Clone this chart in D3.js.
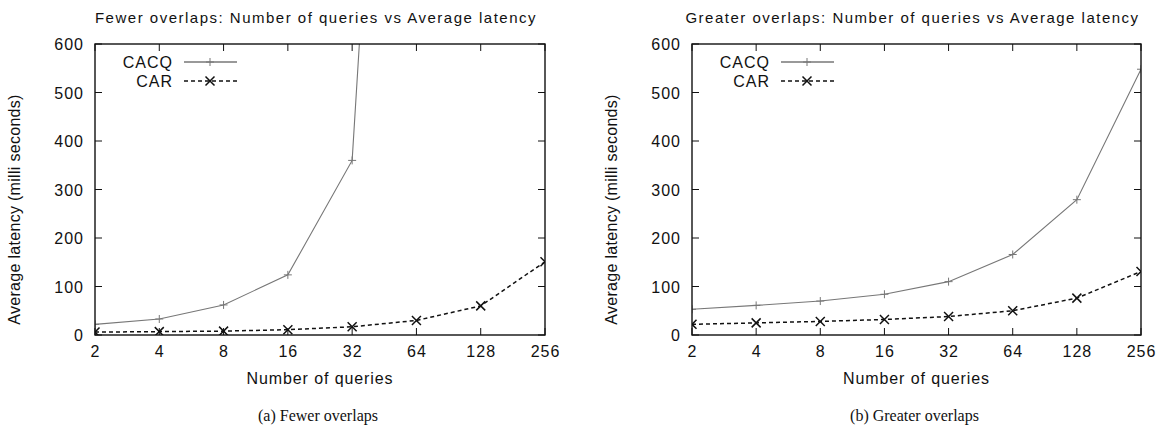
<!DOCTYPE html>
<html>
<head>
<meta charset="utf-8">
<script src="https://cdn.jsdelivr.net/npm/d3@7/dist/d3.min.js"></script>
<style>
  html, body { margin: 0; padding: 0; background: #fff; }
  svg { display: block; }
  .gp { font-family: "Liberation Sans", Arial, sans-serif; fill: #111; }
  .cap { font-family: "Liberation Serif", "Times New Roman", serif; fill: #111; }
</style>
</head>
<body>
<svg id="chart" width="1163" height="442"></svg>
<script>
// ---- data ----
const queries = [2, 4, 8, 16, 32, 64, 128, 256];
const xTickLabels = ["2", "4", "8", "16", "32", "64", "128", "256"];
const yTicks = [0, 100, 200, 300, 400, 500, 600];
const seriesNames = ["CACQ", "CAR"];

// (a) Fewer overlaps
const fewerCACQ = [22, 33, 62, 124, 360, 2500];
const fewerCAR  = [6, 7, 8, 11, 17, 30, 60, 151];
// (b) Greater overlaps
const greaterCACQ = [53, 61, 70, 84, 110, 166, 279, 548];
const greaterCAR  = [22, 25, 28, 32, 38, 50, 76, 131];

const titles = [
  "Fewer overlaps: Number of queries vs Average latency",
  "Greater overlaps: Number of queries vs Average latency"
];
const captions = ["(a) Fewer overlaps", "(b) Greater overlaps"];
const xLabel = "Number of queries";
const yLabel = "Average latency (milli seconds)";

// ---- drawing ----
const svg = d3.select("#chart");

function panel(idx, left, right, cacq, car) {
  const top = 44, bottom = 335;
  const g = svg.append("g");
  const x = d3.scaleLog().base(2).domain([2, 256]).range([left, right]);
  const y = d3.scaleLinear().domain([0, 600]).range([bottom, top]);

  const clipId = "clip" + idx;
  svg.append("clipPath").attr("id", clipId)
    .append("rect").attr("x", left).attr("y", top)
    .attr("width", right - left).attr("height", bottom - top);

  // ticks (inward, mirrored)
  const tl = 7;
  const tickG = g.append("g").attr("stroke", "#111").attr("stroke-width", 1);
  queries.forEach(q => {
    const xx = x(q);
    tickG.append("line").attr("x1", xx).attr("x2", xx).attr("y1", bottom).attr("y2", bottom - tl);
    tickG.append("line").attr("x1", xx).attr("x2", xx).attr("y1", top).attr("y2", top + tl);
  });
  yTicks.forEach(v => {
    const yy = y(v);
    tickG.append("line").attr("x1", left).attr("x2", left + tl).attr("y1", yy).attr("y2", yy);
    tickG.append("line").attr("x1", right).attr("x2", right - tl).attr("y1", yy).attr("y2", yy);
  });

  // tick labels
  g.selectAll(".xt").data(queries).enter().append("text")
    .attr("class", "gp").attr("x", d => x(d) + 0.5).attr("y", 357)
    .attr("text-anchor", "middle").attr("font-size", 16).attr("letter-spacing", 1)
    .text((d, i) => xTickLabels[i]);
  g.selectAll(".yt").data(yTicks).enter().append("text")
    .attr("class", "gp").attr("x", left - 11).attr("y", d => y(d) + 6)
    .attr("text-anchor", "end").attr("font-size", 16).attr("letter-spacing", 1)
    .text(d => d);

  // axis titles
  g.append("text").attr("class", "gp")
    .attr("x", (left + right) / 2).attr("y", 384)
    .attr("text-anchor", "middle").attr("font-size", 16).attr("letter-spacing", 0.9).text(xLabel);
  g.append("text").attr("class", "gp")
    .attr("transform", `translate(${left - 75},${(top + bottom) / 2 + 20}) rotate(-90)`)
    .attr("text-anchor", "middle").attr("font-size", 16).attr("letter-spacing", 0.3).text(yLabel);

  // chart title
  g.append("text").attr("class", "gp")
    .attr("x", (left + right) / 2 - 4).attr("y", 23)
    .attr("text-anchor", "middle").attr("font-size", 15).attr("letter-spacing", 1.5).text(titles[idx]);

  // caption
  g.append("text").attr("class", "cap")
    .attr("x", (left + right) / 2 - 2).attr("y", 421)
    .attr("text-anchor", "middle").attr("font-size", 16).text(captions[idx]);

  // lines
  const line = d3.line().x(d => x(d[0])).y(d => y(d[1]));
  const cacqPts = cacq.map((v, i) => [queries[i], v]);
  const carPts = car.map((v, i) => [queries[i], v]);
  const plot = g.append("g").attr("clip-path", `url(#${clipId})`);

  plot.append("path").datum(cacqPts).attr("d", line)
    .attr("fill", "none").attr("stroke", "#777").attr("stroke-width", 1.1);
  plot.append("path").datum(carPts).attr("d", line)
    .attr("fill", "none").attr("stroke", "#111").attr("stroke-width", 1.5)
    .attr("stroke-dasharray", "4,3");

  const ms = 4, mx = 4.5;
  cacqPts.filter(d => d[1] <= 600).forEach(d => {
    const cx = x(d[0]), cy = y(d[1]);
    plot.append("path").attr("d", `M${cx - ms},${cy}H${cx + ms}M${cx},${cy - ms}V${cy + ms}`)
      .attr("stroke", "#777").attr("stroke-width", 1);
  });
  carPts.forEach(d => {
    const cx = x(d[0]), cy = y(d[1]);
    plot.append("path").attr("d", `M${cx - mx},${cy - mx}L${cx + mx},${cy + mx}M${cx - mx},${cy + mx}L${cx + mx},${cy - mx}`)
      .attr("stroke", "#111").attr("stroke-width", 1.5);
  });

  // frame
  g.append("rect").attr("x", left).attr("y", top)
    .attr("width", right - left).attr("height", bottom - top)
    .attr("fill", "none").attr("stroke", "#111").attr("stroke-width", 1.4);

  // legend
  const lgY = [62, 81];
  const styles = [
    { stroke: "#777", w: 1.3, dash: null, mk: "plus" },
    { stroke: "#111", w: 1.5, dash: "4,3", mk: "x" }
  ];
  seriesNames.forEach((name, i) => {
    const yy = lgY[i];
    g.append("text").attr("class", "gp").attr("x", left + 78).attr("y", yy + 6)
      .attr("text-anchor", "end").attr("font-size", 16).attr("letter-spacing", 1).text(name);
    g.append("line").attr("x1", left + 89).attr("x2", left + 142)
      .attr("y1", yy).attr("y2", yy)
      .attr("stroke", styles[i].stroke).attr("stroke-width", styles[i].w)
      .attr("stroke-dasharray", styles[i].dash);
    const cx = left + 115;
    if (styles[i].mk === "plus") {
      g.append("path").attr("d", `M${cx - ms},${yy}H${cx + ms}M${cx},${yy - ms}V${yy + ms}`)
        .attr("stroke", "#777").attr("stroke-width", 1);
    } else {
      g.append("path").attr("d", `M${cx - mx},${yy - mx}L${cx + mx},${yy + mx}M${cx - mx},${yy + mx}L${cx + mx},${yy - mx}`)
        .attr("stroke", "#111").attr("stroke-width", 1.5);
    }
  });
}

panel(0, 95, 545, fewerCACQ, fewerCAR);
panel(1, 692, 1141, greaterCACQ, greaterCAR);
</script>
</body>
</html>
